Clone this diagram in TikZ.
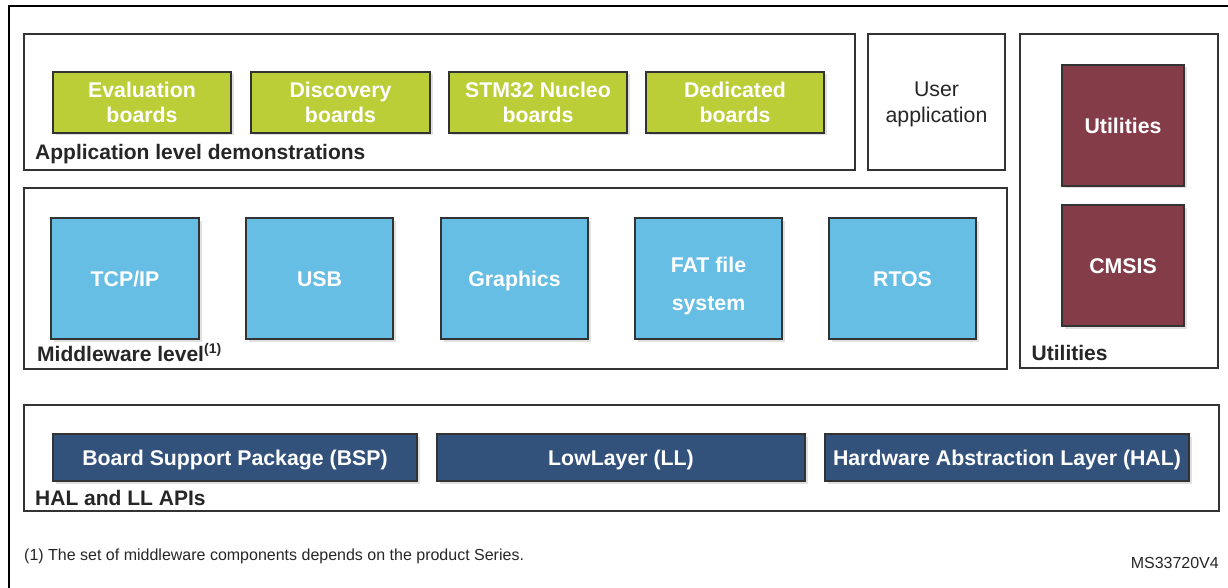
\documentclass[tikz,border=0pt]{standalone}
\usepackage{fontspec}
\setmainfont{Liberation Sans}
\usetikzlibrary{shadows}
\definecolor{grn}{RGB}{187,206,56}
\definecolor{lblue}{RGB}{102,190,228}
\definecolor{wine}{RGB}{132,60,72}
\definecolor{navy}{RGB}{50,82,124}
\definecolor{edge}{RGB}{51,51,51}
\definecolor{txt}{RGB}{38,38,38}
\tikzset{
  x=1pt, y=-1pt,
  container/.style={draw=edge, line width=2pt, fill=white, inner sep=0pt},
  colbox/.style={draw=edge, line width=2pt, inner sep=0pt, text=white, align=center,
     font=\bfseries\fontsize{21.3}{25}\selectfont,
     drop shadow={shadow xshift=2.5pt, shadow yshift=-2.5pt, fill=black!12, opacity=1}},
  oneline/.style={text height=19pt, text depth=3.8pt},
  greenbox/.style={colbox, fill=grn, minimum width=178pt, minimum height=61pt},
  bluebox/.style={colbox, oneline, fill=lblue, minimum width=147pt, minimum height=121pt},
  winebox/.style={colbox, oneline, fill=wine, minimum width=122pt, minimum height=121pt},
  navybox/.style={colbox, oneline, fill=navy, minimum width=364pt, minimum height=47pt},
  layerlabel/.style={anchor=base west, inner sep=0pt, text=txt, font=\bfseries\fontsize{21}{22}\selectfont},
}
\begin{document}
\begin{tikzpicture}
\useasboundingbox (0,0) rectangle (1228,588);
% outer frame (cut off)
\coordinate (ftr) at (1228,6);
\coordinate (ftl) at (9,6);
\coordinate (fbl) at (9,588);
\draw[black, line width=2.5pt] (ftr) -- (ftl) -- (fbl);

% application level
\node[container, minimum width=831pt, minimum height=136pt] (app) at (439.5,102) {};
\node[greenbox] (eval) at (142,102.5) {Evaluation\\boards};
\node[greenbox, minimum width=179pt] (disc) at (340.5,102.5) {Discovery\\boards};
\node[greenbox] (nucleo) at (538,102.5) {STM32 Nucleo\\boards};
\node[greenbox] (ded) at (735,102.5) {Dedicated\\boards};
\node[layerlabel] (applbl) at (35,160) {Application level demonstrations};

% user application
\node[container, minimum width=137pt, minimum height=136pt] (user) at (936.5,102) {};
\node[align=center, text=txt, inner sep=0pt, font=\fontsize{21.3}{26}\selectfont] (usertxt) at (936.5,104.5) {User\\application};

% utilities
\node[container, minimum width=198pt, minimum height=334pt] (utilc) at (1119,201) {};
\node[winebox] (util) at (1123,125.5) {Utilities};
\node[winebox] (cmsis) at (1123,265.5) {CMSIS};
\node[layerlabel] (utillbl) at (1031.5,360) {Utilities};

% middleware
\node[container, minimum width=983pt, minimum height=181pt] (mid) at (515.5,278.5) {};
\node[bluebox, minimum width=148pt] (tcp) at (125,278.5) {TCP/IP};
\node[bluebox] (usb) at (319.5,278.5) {USB};
\node[bluebox] (gfx) at (514.5,278.5) {Graphics};
\node[bluebox] (fat) at (708.5,278.5) {};
\node[align=center, text=white, inner sep=0pt, font=\bfseries\fontsize{21.3}{38}\selectfont] (fattxt) at (708.5,285.5) {FAT file\\system};
\node[bluebox] (rtos) at (902.5,278.5) {RTOS};
\node[layerlabel] (midlbl) at (37,361.5) {Middleware level\textsuperscript{\fontsize{14}{14}\selectfont (1)}};

% HAL and LL
\node[container, minimum width=1195pt, minimum height=106pt] (hall) at (621.5,458) {};
\node[navybox] (bsp) at (235,457.5) {Board Support Package (BSP)};
\node[navybox, minimum width=368pt] (ll) at (621,457.5) {LowLayer (LL)};
\node[navybox] (hal) at (1007,457.5) {Hardware Abstraction Layer (HAL)};
\node[layerlabel] (hallbl) at (35,505) {HAL and LL APIs};

% footnote and reference
\node[anchor=base west, inner sep=0pt, text=txt, font=\fontsize{16}{18}\selectfont] (note) at (24,560.5)
  {(1) The set of middleware components depends on the product Series.};
\node[anchor=base east, inner sep=0pt, text=txt, font=\fontsize{16}{18}\selectfont] (ref) at (1219,568) {MS33720V4};
\end{tikzpicture}
\end{document}
